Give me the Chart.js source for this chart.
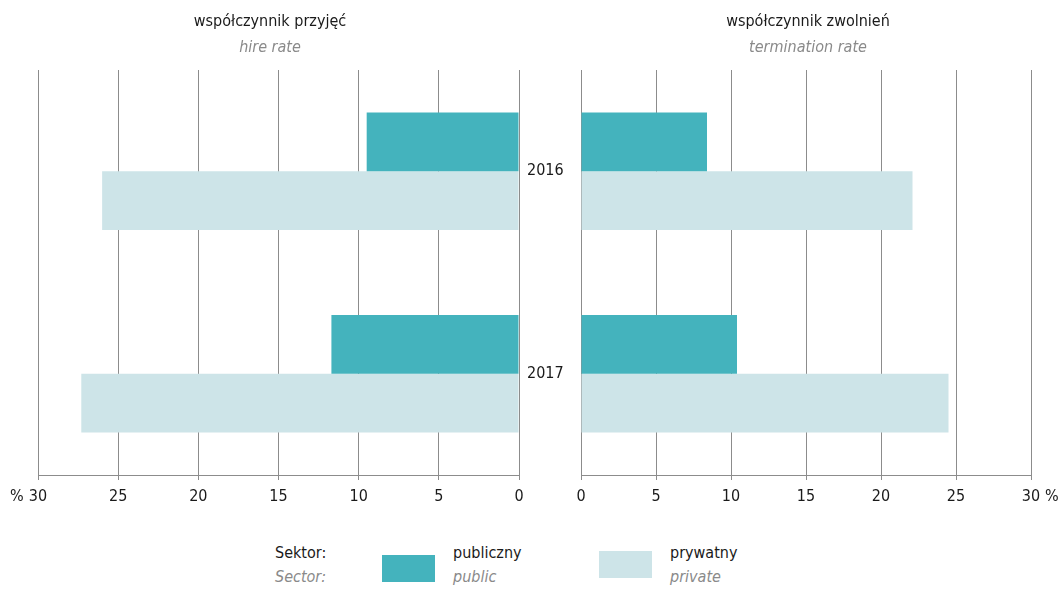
<!DOCTYPE html>
<html>
<head>
<meta charset="utf-8">
<script src="https://cdn.jsdelivr.net/npm/chart.js@4.4.0/dist/chart.umd.min.js"></script>
<style>
  html, body { margin:0; padding:0; background:#fff; }
  body { width:1063px; height:589px; position:relative; overflow:hidden;
         font-family:"Liberation Sans Narrow","DejaVu Sans Condensed","Roboto Condensed",sans-serif; }
  .abs { position:absolute; white-space:nowrap; }
  .t { color:#1a1a1a; font-size:16px; }
  .s { color:#8a8a8a; font-size:16px; font-style:italic; }
  .ctr { transform:translateX(-50%); }
  canvas { position:absolute; }
</style>
</head>
<body>
<div id="wrapL" class="abs" style="left:0;top:0;width:600px;height:520px;"><canvas id="left"></canvas></div>
<div id="wrapR" class="abs" style="left:560px;top:0;width:503px;height:520px;"><canvas id="right"></canvas></div>

<div class="abs t ctr" style="left:270px;top:11px;">współczynnik przyjęć</div>
<div class="abs s ctr" style="left:270px;top:37px;">hire rate</div>
<div class="abs t ctr" style="left:808px;top:11px;">współczynnik zwolnień</div>
<div class="abs s ctr" style="left:808px;top:37px;">termination rate</div>

<div class="abs t" style="left:10px;top:486px;font-size:16px;">%</div>
<div class="abs t" style="left:1045px;top:486px;font-size:16px;">%</div>

<div class="abs t" style="left:275px;top:543px;">Sektor:</div>
<div class="abs s" style="left:275px;top:567px;">Sector:</div>
<div class="abs" style="left:382px;top:555px;width:53px;height:27px;background:#44b3bd;"></div>
<div class="abs t" style="left:453px;top:543px;">publiczny</div>
<div class="abs s" style="left:453px;top:567px;">public</div>
<div class="abs" style="left:599px;top:551px;width:53px;height:27px;background:#cde4e8;"></div>
<div class="abs t" style="left:670px;top:543px;">prywatny</div>
<div class="abs s" style="left:670px;top:567px;">private</div>

<script>
const years = ['2016', '2017'];
const seriesNames = ['publiczny', 'prywatny'];
const hirePublic = [9.5, 11.7];
const hirePrivate = [26.0, 27.3];
const termPublic = [8.4, 10.4];
const termPrivate = [22.1, 24.5];
const xTicks = [0, 5, 10, 15, 20, 25, 30];

const FONT = '"Liberation Sans Narrow","DejaVu Sans Condensed",sans-serif';
const GRID = '#8c8c8c';
const C_PUB = '#44b3bd';
const C_PRIV = '#cde4e8';

function makeDatasets(pub, priv) {
  return [
    { label: seriesNames[0], data: pub, backgroundColor: C_PUB, borderWidth: 0,
      categoryPercentage: 0.58, barPercentage: 1.0 },
    { label: seriesNames[1], data: priv, backgroundColor: C_PRIV, borderWidth: 0,
      categoryPercentage: 0.58, barPercentage: 1.0 }
  ];
}

function xScale(reverse) {
  return {
    type: 'linear', min: 0, max: 30, reverse: reverse,
    afterBuildTicks: s => { s.ticks = xTicks.map(v => ({ value: v })); },
    afterFit: s => { s.height = 45; },
    grid: { color: GRID, lineWidth: 1, drawTicks: true, tickLength: 5, tickColor: GRID },
    border: { display: true, color: GRID, width: 1 },
    ticks: { color: '#1a1a1a', font: { family: FONT, size: 16 }, padding: 7, maxRotation: 0 }
  };
}

const common = {
  responsive: false, animation: false, indexAxis: 'y',
  plugins: { legend: { display: false }, tooltip: { enabled: false }, title: { display: false } }
};

const lc = document.getElementById('left');
lc.width = 600; lc.height = 520;
new Chart(lc, {
  type: 'bar',
  data: { labels: years, datasets: makeDatasets(hirePublic, hirePrivate) },
  options: Object.assign({}, common, {
    layout: { padding: { left: 38, top: 70, right: 0, bottom: 0 } },
    scales: {
      x: xScale(true),
      y: {
        position: 'right',
        afterFit: s => { s.width = 81; },
        grid: { display: false, drawTicks: false },
        border: { display: false },
        ticks: { color: '#1a1a1a', font: { family: FONT, size: 16 }, padding: 8, crossAlign: 'near' }
      }
    }
  })
});

const rc = document.getElementById('right');
rc.width = 503; rc.height = 520;
new Chart(rc, {
  type: 'bar',
  data: { labels: years, datasets: makeDatasets(termPublic, termPrivate) },
  options: Object.assign({}, common, {
    layout: { padding: { left: 21, top: 70, right: 32, bottom: 0 } },
    scales: {
      x: xScale(false),
      y: { display: false }
    }
  })
});
</script>
</body>
</html>
